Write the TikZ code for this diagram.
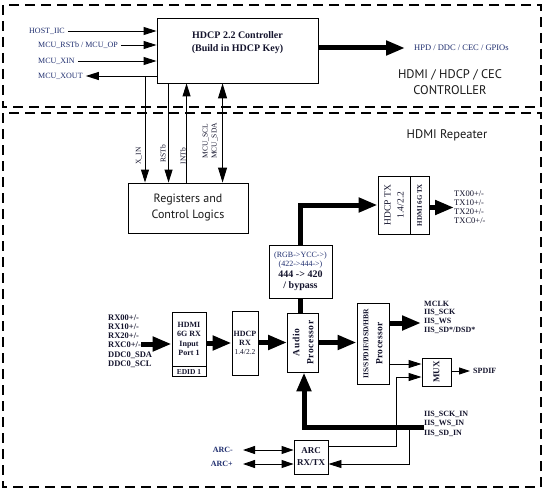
\documentclass[tikz,border=0pt]{standalone}
\usepackage{fontspec}
\setmainfont{Liberation Serif}
\newfontfamily\sansf{PT Sans}
\usetikzlibrary{arrows.meta,calc}
\definecolor{navy}{RGB}{30,45,110}
\definecolor{ink}{RGB}{20,20,45}
\begin{document}
\begin{tikzpicture}[x=1pt,y=-1pt,
  box/.style={draw,line width=0.9pt,inner sep=0pt,text=ink,font=\bfseries\fontsize{8}{9.3}\selectfont,align=center},
  lbl/.style={inner sep=0pt,text=navy,font=\fontsize{8}{9}\selectfont,align=left},
  blbl/.style={inner sep=0pt,text=ink,font=\bfseries\fontsize{8}{8.7}\selectfont,align=left},
  vlbl/.style={inner sep=0pt,rotate=90,text=ink,font=\fontsize{7.5}{9}\selectfont,align=center},
  ttl/.style={inner sep=0pt,text=black!90,font=\sansf\fontsize{12.5}{15.5}\selectfont,align=center},
  arr/.style={line width=0.9pt,-{Triangle[length=13pt,width=8pt]}},
  arrs/.style={line width=0.9pt,-{Triangle[length=11pt,width=7pt]}},
  arrb/.style={line width=0.9pt,{Triangle[length=12pt,width=8pt]}-{Triangle[length=12pt,width=8pt]}},
  arrbb/.style={line width=0.9pt,{Triangle[length=15pt,width=9pt]}-{Triangle[length=15pt,width=9pt]}},
  fat/.style={line width=5pt,-{Triangle[length=19pt,width=14pt]}},
  fatline/.style={line width=5pt},
  region/.style={draw,line width=1.2pt,dash pattern=on 10pt off 6pt}
]
\useasboundingbox (0,0) rectangle (545,492);
% regions
\draw[region] (3,5) rectangle (541,107);
\draw[region] (3,113) rectangle (541,487);
% controller
\node[box,minimum width=161pt,minimum height=65pt] (ctrl) at (237.5,50.5) {};
\node[inner sep=0pt,text=ink,font=\bfseries\fontsize{10}{13}\selectfont,align=center] (ctrltxt) at (237.5,42.5) {HDCP 2.2 Controller\\(Build in HDCP Key)};
\node[lbl,anchor=west] (hostiic) at (29,31) {HOST\_IIC};
\node[lbl,anchor=west] (mcurst) at (38,45) {MCU\_RSTb / MCU\_OP};
\node[lbl,anchor=west] (mcuxin) at (38,61) {MCU\_XIN};
\node[lbl,anchor=west] (mcuxout) at (38,76) {MCU\_XOUT};
\draw[arr,shorten <=3pt] (hostiic.east) -- (hostiic.east -| ctrl.west);
\draw[arr,shorten <=3pt] (mcurst.east) -- (mcurst.east -| ctrl.west);
\draw[arr,shorten <=3pt] (mcuxin.east) -- (mcuxin.east -| ctrl.west);
\draw[arr,shorten >=3pt] (mcuxout.east -| ctrl.west) -- (mcuxout.east);
\node[lbl,anchor=west,font=\fontsize{8.5}{10}\selectfont] (hpd) at (414,48) {HPD / DDC / CEC / GPIOs};
\draw[fat,shorten >=9pt] (ctrl.east |- hpd.west) -- (hpd.west);
\node[ttl] (ctitle) at (450,82) {HDMI / HDCP / CEC\\CONTROLLER};
\node[ttl] (rtitle) at (447,135) {HDMI Repeater};
% registers
\node[draw,line width=0.9pt,minimum width=120pt,minimum height=50pt,text=black!90,font=\sansf\fontsize{12}{16}\selectfont,align=center] (regs) at (188,208) {Registers and\\Control Logics};
\coordinate (xinj) at (145,76);
\coordinate (rst) at ([xshift=12pt]ctrl.south west);
\coordinate (intb) at ([xshift=30pt]ctrl.south west);
\coordinate (sda) at ([xshift=66pt]ctrl.south west);
\draw[arr] (xinj) -- (xinj |- regs.north);
\draw[arr] (rst) -- (rst |- regs.north);
\draw[arr] (intb |- regs.north) -- (intb);
\draw[arrbb] (sda) -- (sda |- regs.north);
\node[vlbl] (xinlbl) at (139,156) {X\_IN};
\node[vlbl] (rstlbl) at (163,154) {RSTb};
\node[vlbl] (intlbl) at (183,156) {INTb};
\node[vlbl] (sdalbl) at (210,141) {MCU\_SCL\\MCU\_SDA};
% colour space converter
\node[box,minimum width=63pt,minimum height=53pt,font=\fontsize{8}{9.5}\selectfont] (csc) at (300.5,271.5) {{\color{navy}(RGB->YCC->)}\\{\color{navy}(422->444->)}\\[1pt]{\bfseries\fontsize{10}{12}\selectfont 444 -> 420}\\[2pt]{\bfseries\fontsize{10}{12}\selectfont / bypass}};
% HDCP TX
\node[box,minimum width=32pt,minimum height=58pt] (hdcptx) at (394,205) {};
\node[box,minimum width=19pt,minimum height=58pt] (hdmitx) at (419.5,205) {};
\node[vlbl,font=\fontsize{9.5}{13}\selectfont] (hdcptxt) at (hdcptx.center) {HDCP TX\\1.4/2.2};
\node[vlbl,font=\bfseries\fontsize{7}{8}\selectfont] (hdmitxt) at (hdmitx.center) {HDMI 6G TX};
\node[lbl,text=ink,anchor=west,font=\fontsize{8.5}{9}\selectfont] (txl) at (454,207.5) {TX00+/-\\TX10+/-\\TX20+/-\\TXC0+/-};
\draw[fat] (hdmitx.east |- txl.west) -- (txl.west);
\draw[fat] (csc.north) |- (hdcptx.west);
% RX chain
\node[blbl,anchor=west,font=\bfseries\fontsize{8.5}{9.2}\selectfont] (rxl) at (108,341) {RX00+/-\\RX10+/-\\RX20+/-\\RXC0+/-\\DDC0\_SDA\\DDC0\_SCL};
\node[box,minimum width=34pt,minimum height=54pt] (rxbox) at (189,339) {HDMI\\6G RX\\Input\\Port 1};
\node[box,minimum width=34pt,minimum height=10pt,font=\bfseries\fontsize{7.5}{8}\selectfont,anchor=north] (edid) at (rxbox.south) {EDID 1};
\coordinate (rxin) at (141,344);
\draw[fat] (rxin) -- (rxin -| rxbox.west);
\node[box,minimum width=26pt,minimum height=64pt] (hdcprx) at (245,343) {HDCP\\RX\\{\mdseries\fontsize{7.5}{9}\selectfont 1.4/2.2}};
\draw[fat] (rxbox.east |- hdcprx.west) -- (hdcprx.west);
\node[box,minimum width=31pt,minimum height=59pt] (audio) at (303,342.5) {};
\node[vlbl,font=\bfseries\fontsize{9.5}{14}\selectfont\addfontfeature{LetterSpace=6}] (audiotxt) at (audio.center) {Audio\\Processor};
\draw[fat] (hdcprx.east |- audio.west) -- (audio.west);
\draw[fatline] (csc.south) -- (csc.south |- audio.north);
\node[box,minimum width=32pt,minimum height=81pt] (iis) at (373,343.5) {};
\node[vlbl,font=\bfseries\fontsize{7.5}{14}\selectfont] (iistxt) at (iis.center) {IIS/SPDIF/DSD/HBR\\{\fontsize{9.5}{11}\selectfont\addfontfeature{LetterSpace=4} Processor}};
\draw[fat] (audio.east) -- (audio.east -| iis.west);
\node[blbl,anchor=west] (iisout) at (424,317) {MCLK\\IIS\_SCK\\IIS\_WS\\IIS\_SD*/DSD*};
\coordinate (iisoutin) at ([yshift=-6pt]iisout.west);
\draw[fat,shorten >=3pt] (iisoutin -| iis.east) -- (iisoutin);
% MUX
\node[box,minimum width=29pt,minimum height=28pt] (mux) at (436.5,372) {};
\node[vlbl,font=\bfseries\fontsize{9}{10}\selectfont] (muxtxt) at (mux.center) {MUX};
\coordinate (muxa) at ([yshift=8pt]mux.west);
\coordinate (muxb) at ([yshift=-5pt]mux.west);
\draw[arr] (muxa -| iis.east) -- (muxa);
\node[blbl,anchor=west] (spdif) at (473,371) {SPDIF};
\draw[arrs,shorten >=3pt] (mux.east |- spdif.west) -- (spdif.west);
% ARC
\node[box,minimum width=34pt,minimum height=34pt,font=\bfseries\fontsize{9}{12}\selectfont] (arc) at (311,457) {ARC\\RX/TX};
\node[blbl,text=navy,anchor=east] (arcm) at (233,450) {ARC-};
\node[blbl,text=navy,anchor=east] (arcp) at (233,464) {ARC+};
\draw[arrb,shorten <=10pt] (arcm.east) -- (arcm.east -| arc.west);
\draw[arrb,shorten <=10pt] (arcp.east) -- (arcp.east -| arc.west);
\node[blbl,anchor=west,font=\bfseries\fontsize{8}{9.5}\selectfont] (iisin) at (424,423.5) {IIS\_SCK\_IN\\IIS\_WS\_IN\\IIS\_SD\_IN};
\coordinate (iisinj) at ([yshift=-3.5pt]iisin.west);
\draw[fat] (iisinj) -| ([xshift=1pt]audio.south);
\coordinate (arcrxj) at ($(iisinj)+(-15,0)$);
\coordinate (arcin) at ([yshift=-7pt]arc.east);
\coordinate (arcout) at ([yshift=11pt]arc.east);
\draw[arr] (arcrxj) |- (arcin);
\draw[arr] (arcout) -| ($(muxb)+(-25,0)$) -- (muxb);
\end{tikzpicture}
\end{document}
